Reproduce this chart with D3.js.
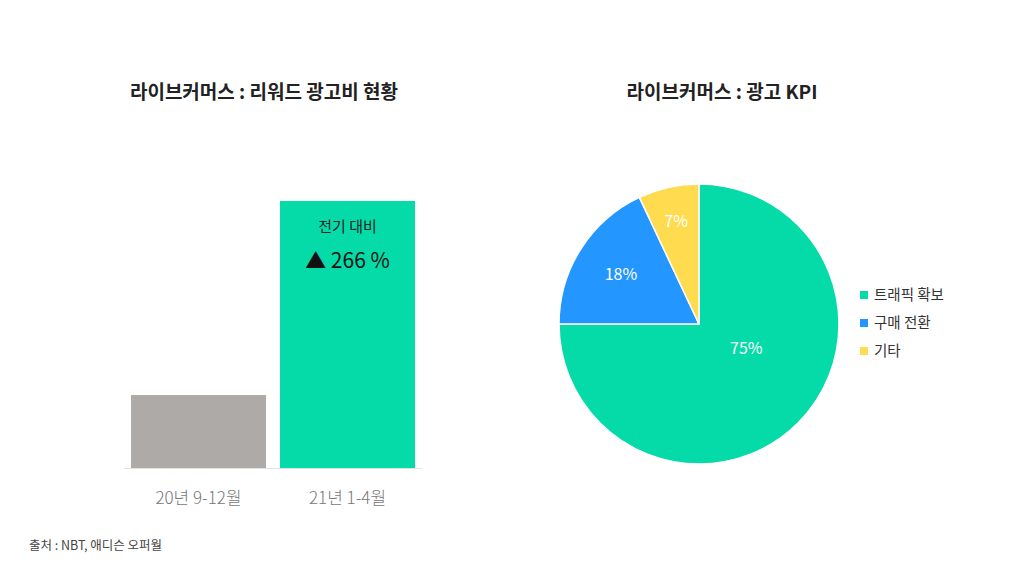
<!DOCTYPE html>
<html>
<head>
<meta charset="UTF-8">
<script src="https://d3js.org/d3.v7.min.js"></script>
<style>
  body { margin: 0; background: #fff; }
  svg { font-family: "Noto Sans CJK KR", "Noto Sans", sans-serif; }
</style>
</head>
<body>
<svg class="chart"></svg>
<script>
var width = 1024, height = 576;

// bar data
var barCats = ["20년 9-12월", "21년 1-4월"];
var barVals = [100, 366];
var barColors = ["#aeaaa8", "#05dba8"];

// pie data
var pieCats = ["트래픽 확보", "구매 전환", "기타"];
var pieVals = [75, 18, 7];
var pieColors = ["#05dba8", "#2397ff", "#ffdb50"];

var svg = d3.select(".chart").attr("width", width).attr("height", height);

// titles
svg.append("text").attr("x", 264).attr("y", 99).attr("text-anchor", "middle")
   .attr("font-size", 19).attr("font-weight", 700).attr("fill", "#222")
   .text("라이브커머스 : 리워드 광고비 현황");
svg.append("text").attr("x", 722).attr("y", 99).attr("text-anchor", "middle")
   .attr("font-size", 19).attr("font-weight", 700).attr("fill", "#222")
   .text("라이브커머스 : 광고 KPI");

// bar chart
var x = d3.scaleBand().domain(barCats).range([131, 415]).paddingInner(0.094).paddingOuter(0);
var y = d3.scaleLinear().domain([0, 366]).range([468, 201]);

var bars = svg.append("g");
bars.selectAll("rect").data(barVals).enter().append("rect")
    .attr("x", function(d, i) { return x(barCats[i]); })
    .attr("y", function(d) { return y(d); })
    .attr("width", x.bandwidth())
    .attr("height", function(d) { return y(0) - y(d); })
    .attr("fill", function(d, i) { return barColors[i]; });

svg.append("line").attr("x1", 124).attr("x2", 422).attr("y1", 468.5).attr("y2", 468.5)
   .attr("stroke", "#e2e2e2").attr("stroke-width", 1);

bars.selectAll("text.cat").data(barCats).enter().append("text")
    .attr("class", "cat")
    .attr("x", function(d) { return x(d) + x.bandwidth() / 2; })
    .attr("y", 504)
    .attr("text-anchor", "middle").attr("font-size", 17).attr("font-weight", 300)
    .attr("fill", "#777").text(function(d) { return d; });

var cx2 = x(barCats[1]) + x.bandwidth() / 2;
svg.append("text").attr("x", cx2).attr("y", 232).attr("text-anchor", "middle")
   .attr("font-size", 15).attr("fill", "#222").text("전기 대비");
svg.append("text").attr("x", cx2).attr("y", 268).attr("text-anchor", "middle")
   .attr("font-size", 21).attr("fill", "#111").text("▲ 266 %");

// pie chart
var pcx = 699, pcy = 324, r = 140;
var pie = d3.pie().sort(null).value(function(d) { return d; });
var arc = d3.arc().innerRadius(0).outerRadius(r);
var arcs = pie(pieVals);
var pg = svg.append("g").attr("transform", "translate(" + pcx + "," + pcy + ")");
pg.selectAll("path").data(arcs).enter().append("path")
  .attr("d", arc)
  .attr("fill", function(d, i) { return pieColors[i]; })
  .attr("stroke", "#fff").attr("stroke-width", 1.5);

// label placement: radius fraction and angle shift (radians) per slice
var labelR = [0.38, 0.66, 0.75];
var labelShift = [-0.31, 0, 0];
pg.selectAll("text").data(arcs).enter().append("text")
  .attr("transform", function(d, i) {
      var a = (d.startAngle + d.endAngle) / 2 + labelShift[i];
      var rr = r * labelR[i];
      return "translate(" + (Math.sin(a) * rr) + "," + (-Math.cos(a) * rr) + ")";
  })
  .attr("dy", "0.35em")
  .attr("text-anchor", "middle").attr("font-size", 16).attr("fill", "#fff")
  .text(function(d) { return d.data + "%"; });

// legend
var lg = svg.append("g").attr("transform", "translate(860,295)");
var items = lg.selectAll("g").data(pieCats).enter().append("g")
  .attr("transform", function(d, i) { return "translate(0," + (i * 28) + ")"; });
items.append("rect").attr("x", 0).attr("y", -4).attr("width", 8).attr("height", 8)
  .attr("fill", function(d, i) { return pieColors[i]; });
items.append("text").attr("x", 14).attr("dy", "0.35em").attr("font-size", 14.5)
  .attr("fill", "#333").text(function(d) { return d; });

// source
svg.append("text").attr("x", 29).attr("y", 550).attr("font-size", 12.5)
   .attr("fill", "#444").text("출처 : NBT, 애디슨 오퍼월");
</script>
</body>
</html>
